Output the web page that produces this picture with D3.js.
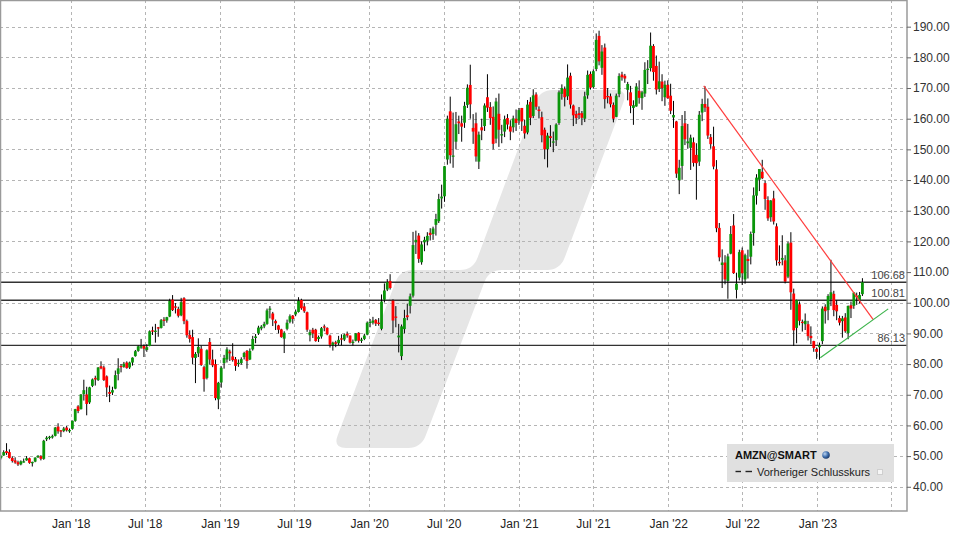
<!DOCTYPE html>
<html><head><meta charset="utf-8">
<script src="https://cdn.jsdelivr.net/npm/d3@7"></script>
<style>html,body{margin:0;padding:0;background:#fff;} svg{display:block;font-family:"Liberation Sans",Arial,sans-serif;}</style>
</head><body><svg id="chart" width="960" height="540"></svg>
<script>
// ---- data (weekly AMZN candles, split-adjusted) ----
const firstWeek = "2017-07-10";
const opens = [
49.3,50.2,51.6,51.3,49.4,48.6,48.0,47.3,48.1,48.6,
49.3,47.8,48.2,49.6,50.0,49.1,55.5,56.0,56.3,56.6,
59.6,58.4,58.2,59.3,58.4,58.9,61.5,66.2,65.3,70.2,
70.1,67.5,72.9,75.5,74.8,79.3,78.9,76.0,70.9,70.7,
72.0,76.8,79.4,79.1,80.5,78.9,80.5,82.6,84.3,85.5,
85.9,84.6,85.9,91.0,90.6,92.0,91.8,94.5,94.2,95.5,
101.0,98.8,98.0,95.9,101.5,94.0,89.5,88.8,82.0,83.5,
85.0,79.0,75.5,87.2,81.5,80.0,68.5,74.0,80.3,81.5,
84.1,82.5,81.6,80.2,80.3,82.3,84.3,81.5,84.8,88.5,
90.0,91.6,92.3,93.1,97.9,96.5,94.0,92.6,91.3,88.3,
91.5,93.8,95.8,96.2,97.0,100.9,98.8,96.9,89.4,91.2,
91.2,88.2,89.0,92.3,91.8,89.3,86.2,87.1,86.8,88.4,
88.0,89.9,89.3,87.0,87.6,90.2,87.7,88.2,89.6,93.4,
93.5,94.4,93.5,91.5,101.0,104.3,107.1,100.7,95.5,88.7,
82.6,91.4,95.9,99.0,102.3,119.7,121.9,113.2,119.7,120.2,
122.8,122.4,125.4,126.6,134.0,134.7,146.7,162.4,147.6,152.5,
159.1,158.5,158.7,164.5,171.0,157.0,158.5,146.0,157.2,157.6,
167.0,163.8,160.6,153.5,161.6,154.5,155.8,160.2,157.5,157.2,
160.0,159.4,163.5,157.7,155.5,165.5,160.9,167.9,163.0,160.5,
156.4,150.1,154.3,152.2,153.0,158.6,168.1,169.7,167.3,174.0,
164.3,161.5,161.8,161.8,160.0,167.6,174.6,170.3,176.2,187.0,
176.6,183.2,167.4,167.3,164.5,160.6,168.0,174.4,174.0,169.4,
168.6,163.5,164.0,169.1,166.7,168.2,175.9,176.5,183.7,177.2,
169.7,172.1,167.0,171.0,167.5,160.4,159.1,140.0,144.6,158.5,
152.0,150.5,152.3,148.2,146.0,162.0,164.8,163.9,154.0,151.0,
143.5,124.4,112.3,113.1,107.1,116.0,125.2,104.2,108.2,117.1,
107.6,114.3,115.0,122.7,134.9,140.1,142.7,139.0,133.5,127.9,
134.0,124.9,113.3,114.0,113.8,108.5,119.6,103.0,91.8,99.5,
93.8,93.0,93.0,89.2,87.5,84.9,85.5,87.5,98.7,97.6,
101.2,102.9,99.3,95.0,94.0,95.2,90.1,99.2,99.0,102.3,
100.9,102.8];
const highs = [
50.3,51.9,54.2,52.2,49.9,49.6,48.5,48.6,49.2,50.0,
49.5,48.2,49.6,50.3,50.3,55.3,56.5,56.6,57.0,59.5,
60.7,58.5,59.5,59.8,59.0,61.6,65.4,66.6,70.2,74.9,
72.6,72.6,75.3,76.2,79.0,80.9,79.5,76.3,73.0,72.6,
77.9,81.9,80.0,80.7,80.9,80.8,82.2,84.6,86.1,88.2,
86.4,86.5,91.0,92.2,93.1,92.1,94.7,95.3,95.4,101.3,
102.5,99.9,98.7,101.6,101.8,94.5,91.0,91.2,83.9,88.4,
86.0,79.5,84.8,88.5,84.7,81.5,74.2,79.3,83.0,85.5,
84.7,86.8,82.3,81.5,82.2,84.0,84.6,85.1,89.2,89.8,
92.5,92.7,93.8,98.1,98.9,97.0,94.5,92.8,91.5,90.7,
94.5,96.2,96.0,97.8,101.8,101.3,99.9,97.1,91.2,91.8,
91.5,89.3,92.1,92.9,92.0,89.6,87.3,87.6,89.2,89.7,
89.9,90.6,89.3,88.0,90.1,90.4,88.6,89.9,93.9,94.7,
95.4,94.7,95.0,102.7,106.3,107.7,109.3,101.1,98.9,93.1,
92.9,97.7,99.7,103.0,123.1,123.5,122.7,120.0,121.5,123.0,
124.3,124.8,129.0,135.5,138.5,144.6,161.0,167.2,162.0,162.2,
161.0,161.0,165.5,171.2,177.6,161.5,162.0,155.8,160.0,165.0,
174.5,165.4,164.0,166.8,168.2,158.0,161.0,161.5,159.5,161.0,
163.0,163.5,163.5,159.6,166.1,167.0,169.6,168.6,164.0,162.3,
157.1,155.4,157.9,155.8,158.5,169.2,171.2,170.5,177.7,175.0,
164.6,162.6,163.8,162.5,168.8,175.7,175.4,176.1,187.8,188.7,
184.0,184.5,170.0,168.2,165.3,168.2,174.8,175.3,174.6,172.0,
170.7,166.0,171.6,172.5,169.1,178.4,179.1,188.1,184.3,180.6,
178.6,174.5,172.4,172.5,171.4,165.8,159.3,146.6,161.2,162.5,
158.3,154.8,153.9,152.0,162.5,166.5,170.6,166.6,155.0,157.4,
146.5,126.0,117.4,115.5,116.0,125.0,128.9,109.8,117.3,118.0,
116.0,117.3,123.2,137.6,141.9,143.6,146.6,139.9,134.7,133.5,
136.5,125.9,118.7,122.0,115.5,119.9,123.0,104.6,101.0,100.4,
94.5,96.5,94.1,92.3,87.6,85.4,87.0,98.8,99.5,102.8,
114.0,103.9,100.8,95.8,95.7,96.6,99.1,100.4,103.5,103.3,
103.5,108.0];
const lows = [
48.9,50.1,50.4,49.2,47.9,47.5,46.8,47.0,47.9,48.5,
47.5,46.6,48.0,49.4,48.6,48.8,54.9,55.4,55.7,56.4,
57.3,56.2,57.8,58.0,57.6,58.6,61.2,64.0,65.2,68.1,
63.3,67.0,72.5,73.0,74.5,78.3,74.5,69.3,67.6,69.9,
71.8,74.7,77.3,78.8,78.5,78.4,79.5,82.4,84.0,85.0,
82.3,84.0,85.8,89.5,87.0,88.9,91.6,92.4,93.5,95.3,
97.3,96.5,95.2,95.6,93.0,88.6,87.0,80.0,73.8,82.3,
79.4,71.0,75.0,79.8,79.0,68.2,65.3,72.3,78.5,80.5,
81.0,80.8,77.8,79.1,79.8,81.5,78.5,81.3,84.4,86.8,
89.5,91.0,91.7,92.8,94.9,92.4,91.1,90.0,88.6,83.6,
91.0,93.3,93.2,95.6,96.8,97.7,96.7,90.5,87.4,88.5,
87.3,87.2,88.3,90.7,89.4,85.4,84.4,85.5,86.2,86.1,
87.5,88.6,86.7,86.0,87.4,87.0,86.9,87.8,89.4,92.0,
92.9,92.4,92.5,91.0,100.1,103.8,104.3,90.1,92.0,83.8,
81.3,90.0,94.3,96.5,101.7,115.9,113.0,112.4,116.8,118.7,
120.3,120.5,121.9,126.0,130.7,132.9,145.0,145.4,144.0,150.0,
155.0,152.5,157.0,163.5,160.0,151.8,146.0,143.6,153.0,156.0,
162.2,158.0,150.0,152.0,150.8,152.0,154.0,156.5,153.0,155.5,
156.0,158.0,156.0,153.5,154.9,157.9,160.2,162.9,160.1,152.3,
146.8,144.1,150.8,149.1,151.1,158.0,166.2,164.0,166.1,163.3,
157.6,158.3,159.9,157.9,158.9,166.5,169.5,169.8,175.5,177.4,
174.3,163.3,165.0,163.7,158.8,160.5,167.0,172.4,171.7,166.0,
161.8,158.0,163.9,164.9,162.9,167.1,171.3,175.4,172.4,167.9,
168.7,165.7,164.2,166.5,161.5,157.0,140.7,135.4,140.1,151.4,
150.2,143.3,144.4,133.6,144.6,159.2,162.2,153.4,150.2,143.5,
123.0,113.5,104.8,106.0,101.3,115.8,109.4,101.4,107.3,105.8,
106.2,107.9,112.5,118.6,132.0,136.4,140.3,130.3,126.7,126.4,
125.5,112.1,112.1,112.2,106.3,108.0,97.7,85.9,86.8,92.6,
90.6,91.1,87.7,86.5,84.0,81.7,81.4,86.5,93.2,94.3,
98.9,95.6,94.3,92.6,88.6,90.2,88.1,95.0,98.0,99.3,
99.8,102.2];
const closes = [
50.1,51.3,51.0,49.4,48.4,47.9,47.3,48.3,48.3,49.3,
47.8,48.1,49.5,50.1,49.1,55.0,56.0,56.3,56.5,59.3,
58.1,58.1,59.0,58.4,58.5,61.5,65.3,64.7,70.1,71.5,
67.0,72.4,75.0,75.0,78.9,78.6,74.8,72.4,70.3,71.5,
76.4,78.6,79.0,80.1,78.7,80.5,82.1,84.2,85.8,85.8,
85.0,85.5,90.7,90.7,90.9,91.7,94.3,94.1,95.3,100.6,
97.6,98.5,95.75,100.2,94.0,89.4,88.2,82.1,83.3,85.6,
79.7,75.1,84.5,81.5,79.6,68.9,73.9,78.8,82.0,84.8,
83.5,81.3,79.4,80.4,81.6,83.6,81.0,84.3,88.2,89.0,
91.9,92.2,93.1,97.5,98.1,94.5,93.3,91.2,88.8,90.2,
93.5,95.6,94.7,97.1,100.6,98.2,97.2,91.2,90.4,90.0,
87.5,88.8,91.7,92.0,89.7,86.3,87.0,86.6,87.9,88.1,
89.6,89.3,87.0,87.3,90.0,87.6,88.0,89.3,93.5,93.8,
94.2,93.2,93.1,100.4,104.0,106.7,104.8,94.2,95.1,89.3,
92.3,95.0,95.3,102.1,118.8,120.5,114.3,119.0,120.5,121.8,
122.1,124.2,127.3,133.8,134.6,144.5,160.0,148.1,148.0,158.2,
158.5,157.4,164.2,170.1,164.7,155.8,147.7,154.8,156.2,164.3,
163.6,160.2,151.8,165.6,156.4,155.0,159.8,158.1,155.8,160.1,
158.6,162.8,159.1,155.2,164.6,160.3,167.6,163.9,162.5,154.6,
150.0,154.5,153.7,152.6,158.1,168.6,170.0,167.0,173.4,164.6,
161.1,160.2,161.2,160.3,167.3,174.3,170.1,175.5,185.7,178.7,
181.9,166.4,167.2,164.7,160.0,167.5,173.9,173.5,173.1,171.3,
164.2,164.4,170.5,166.8,168.6,175.9,176.3,183.8,175.2,169.5,
172.2,170.0,171.1,166.7,162.6,161.2,142.1,144.0,157.6,153.3,
152.6,153.8,145.6,145.5,161.3,164.8,163.6,154.5,151.7,144.4,
124.3,114.8,113.1,107.6,115.1,122.4,109.65,106.2,116.5,109.6,
115.5,113.6,122.4,135.0,140.8,143.6,140.6,133.8,127.5,133.3,
126.5,113.8,113.0,114.6,106.9,119.3,103.4,91.0,100.8,94.1,
93.4,94.1,89.1,88.45,85.25,84.0,86.1,98.1,97.25,102.2,
103.4,97.6,97.2,93.5,94.9,90.7,98.95,98.1,103.3,102.1,
102.5,106.68];

const levelValues = [106.68, 100.81, 86.13];
const resistanceLine = [["2022-03-29", 170.7], ["2023-05-17", 94.6]];
const supportLine = [["2023-01-08", 82.1], ["2023-06-23", 98.0]];
const yTicks = [40, 50, 60, 70, 80, 90, 100, 110, 120, 130, 140, 150, 160, 170, 180, 190];
const xGridDates = ["2018-01-01","2018-07-01","2019-01-01","2019-07-01","2020-01-01","2020-07-01",
                    "2021-01-01","2021-07-01","2022-01-01","2022-07-01","2023-01-01","2023-07-01"];
const xTickLabels = ["Jan '18","Jul '18","Jan '19","Jul '19","Jan '20","Jul '20",
                     "Jan '21","Jul '21","Jan '22","Jul '22","Jan '23",""];
const legendTitle = "AMZN@SMART";
const legendItem = "Vorheriger Schlusskurs";

// ---- layout ----
const svg = d3.select("#chart");
const P = {left: 0, top: 0, right: 907, bottom: 511};
const parse = d3.utcParse("%Y-%m-%d");
const x = d3.scaleUtc().domain([parse("2017-07-12"), parse("2023-08-08")]).range([P.left, P.right]);
const y = d3.scaleLinear().domain([32.1, 198.7]).range([P.bottom, P.top]);

const start = parse(firstWeek);
const candles = opens.map((o, i) => ({
  date: d3.utcDay.offset(d3.utcWeek.offset(start, i), 4),
  o, h: highs[i], l: lows[i], c: closes[i]
}));

svg.append("rect").attr("width", 960).attr("height", 540).attr("fill", "#fff");
svg.append("defs").append("clipPath").attr("id", "clip")
  .append("rect").attr("x", P.left).attr("y", P.top).attr("width", P.right - P.left).attr("height", P.bottom - P.top);
const g = svg.append("g").attr("clip-path", "url(#clip)");

// watermark logo (decorative)
function roundedPolygon(pts, r) {
  const n = pts.length; let d = "";
  for (let i = 0; i < n; i++) {
    const p0 = pts[(i - 1 + n) % n], p1 = pts[i], p2 = pts[(i + 1) % n];
    const v1 = [p0[0] - p1[0], p0[1] - p1[1]], v2 = [p2[0] - p1[0], p2[1] - p1[1]];
    const l1 = Math.hypot(v1[0], v1[1]), l2 = Math.hypot(v2[0], v2[1]);
    const r1 = Math.min(r, l1 / 2), r2 = Math.min(r, l2 / 2);
    const a = [p1[0] + v1[0] / l1 * r1, p1[1] + v1[1] / l1 * r1];
    const b = [p1[0] + v2[0] / l2 * r2, p1[1] + v2[1] / l2 * r2];
    d += (i === 0 ? "M" : "L") + a[0] + "," + a[1] + "Q" + p1[0] + "," + p1[1] + " " + b[0] + "," + b[1];
  }
  return d + "Z";
}
const logo = [[333,448],[421,448],[489,270],[560,270],[628,90],[540,90],[473,270],[400,270]];
g.append("path").attr("d", roundedPolygon(logo, 13)).attr("fill", "#e6e6e6");

// gridlines
const grid = g.append("g").attr("stroke", "#b5b5b5").attr("stroke-width", 1).attr("stroke-dasharray", "3,3");
grid.selectAll("line.h").data(yTicks).join("line")
  .attr("x1", P.left).attr("x2", P.right)
  .attr("y1", d => Math.round(y(d)) + 0.5).attr("y2", d => Math.round(y(d)) + 0.5);
grid.selectAll("line.v").data(xGridDates).join("line")
  .attr("y1", P.top).attr("y2", P.bottom)
  .attr("x1", d => Math.round(x(parse(d))) + 0.5).attr("x2", d => Math.round(x(parse(d))) + 0.5);

// horizontal level lines
g.selectAll("line.level").data(levelValues).join("line")
  .attr("x1", P.left).attr("x2", P.right)
  .attr("y1", d => y(d)).attr("y2", d => y(d))
  .attr("stroke", "#333").attr("stroke-width", 1.3);

// candles
const cg = g.append("g");
cg.selectAll("line.wick").data(candles).join("line")
  .attr("x1", d => x(d.date)).attr("x2", d => x(d.date))
  .attr("y1", d => y(d.h)).attr("y2", d => y(d.l))
  .attr("stroke", "#000").attr("stroke-width", 1);
cg.selectAll("rect.body").data(candles).join("rect")
  .attr("x", d => x(d.date) - 1.4).attr("width", 2.8)
  .attr("y", d => y(Math.max(d.o, d.c)))
  .attr("height", d => Math.max(1.3, Math.abs(y(d.o) - y(d.c))))
  .attr("fill", d => d.c >= d.o ? "#0a960a" : "#ff0000");

// trend lines
const tl = d3.line().x(d => x(parse(d[0]))).y(d => y(d[1]));
g.append("path").attr("d", tl(resistanceLine)).attr("fill", "none").attr("stroke", "#ff3b3b").attr("stroke-width", 1.2);
g.append("path").attr("d", tl(supportLine)).attr("fill", "none").attr("stroke", "#3cb44b").attr("stroke-width", 1.2);

// level labels
g.selectAll("text.level").data(levelValues).join("text")
  .attr("x", P.right - 2).attr("y", d => y(d) - 3.5)
  .attr("text-anchor", "end").attr("font-size", 11).attr("fill", "#444")
  .text(d => d.toFixed(2));

// legend
const lg = svg.append("g");
lg.append("rect").attr("x", 727).attr("y", 444).attr("width", 167).attr("height", 38).attr("fill", "#e0e0e0");
lg.append("text").attr("x", 735).attr("y", 459).attr("font-size", 11).attr("font-weight", "bold").attr("fill", "#111").text(legendTitle);
const grad = svg.select("defs").append("radialGradient").attr("id", "globe").attr("cx", "35%").attr("cy", "35%").attr("r", "65%");
grad.append("stop").attr("offset", "0%").attr("stop-color", "#bcd4f0");
grad.append("stop").attr("offset", "60%").attr("stop-color", "#3f6fae");
grad.append("stop").attr("offset", "100%").attr("stop-color", "#1d3d6e");
lg.append("circle").attr("cx", 826).attr("cy", 455).attr("r", 3.8).attr("fill", "url(#globe)");
lg.append("line").attr("x1", 735.5).attr("x2", 741).attr("y1", 471.5).attr("y2", 471.5).attr("stroke", "#222").attr("stroke-width", 1.4);
lg.append("line").attr("x1", 745.5).attr("x2", 752).attr("y1", 471.5).attr("y2", 471.5).attr("stroke", "#222").attr("stroke-width", 1.4);
lg.append("text").attr("x", 757).attr("y", 475.5).attr("font-size", 11).attr("fill", "#222").text(legendItem);
lg.append("rect").attr("x", 877.5).attr("y", 469.5).attr("width", 5).attr("height", 5).attr("fill", "#f6f6f6").attr("stroke", "#cfcfcf").attr("stroke-width", 1);

// frame
svg.append("rect").attr("x", P.left + 0.5).attr("y", P.top + 0.5)
  .attr("width", P.right - P.left - 0.5).attr("height", P.bottom - P.top - 0.5)
  .attr("fill", "none").attr("stroke", "#9a9a9a").attr("stroke-width", 1.5);

// axes
const yAxis = svg.append("g").attr("transform", `translate(${P.right},0)`)
  .call(d3.axisRight(y).tickValues(yTicks).tickFormat(d => d.toFixed(2)).tickSize(4).tickPadding(2));
yAxis.select(".domain").remove();
yAxis.selectAll("line").attr("stroke", "#666");
yAxis.selectAll("text").attr("font-size", 12).attr("fill", "#333").attr("font-family", '"Liberation Sans", Arial, sans-serif');

const xAxis = svg.append("g").attr("transform", `translate(0,${P.bottom})`)
  .call(d3.axisBottom(x).tickValues(xGridDates.map(parse)).tickFormat((d, i) => xTickLabels[i]).tickSize(0).tickPadding(8));
xAxis.select(".domain").remove();
xAxis.selectAll("text").attr("font-size", 12).attr("fill", "#222").attr("font-family", '"Liberation Sans", Arial, sans-serif');
</script>
</body></html>
